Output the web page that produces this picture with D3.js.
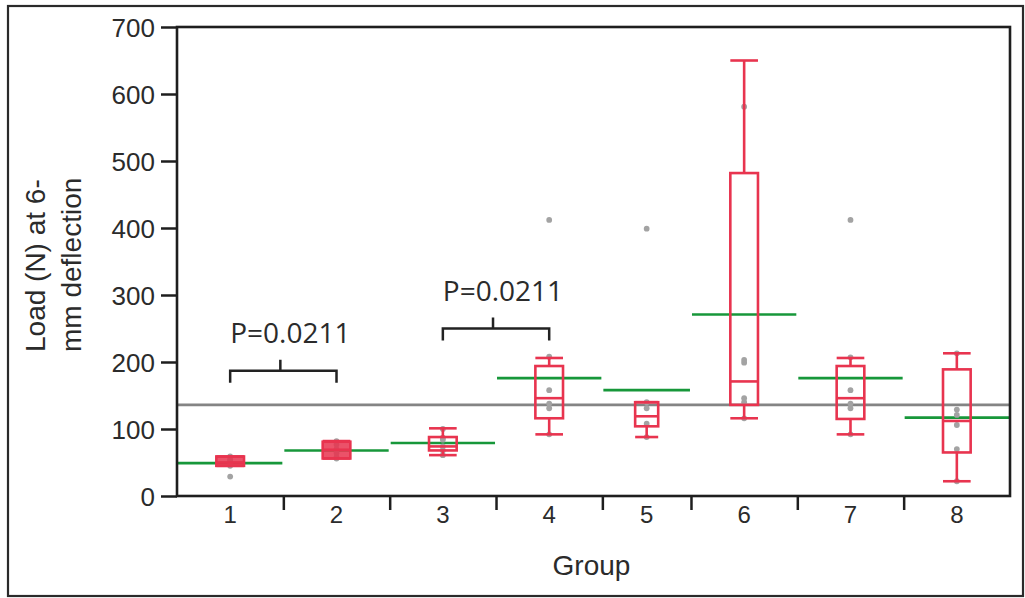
<!DOCTYPE html>
<html>
<head>
<meta charset="utf-8">
<script src="https://cdn.jsdelivr.net/npm/d3@7"></script>
<style>
  html, body { margin: 0; padding: 0; background: #fff; }
  svg { display: block; }
  text { font-family: "Liberation Sans", Arial, Helvetica, sans-serif; fill: #2b2b2b; }
</style>
</head>
<body>
<svg id="chart" width="1025" height="598"></svg>
<script>
// ---------- data ----------
const groups       = ["1", "2", "3", "4", "5", "6", "7", "8"];
const groupN       = [6, 6, 6, 6, 5, 6, 6, 6];
const groupMeans   = [49, 68, 79, 176, 158, 271, 176, 117];
const boxQ1        = [45, 56, 68, 116, 104, 136, 115, 65];
const boxMedian    = [50, 69, 74, 146, 119, 171, 146, 112];
const boxQ3        = [59, 81, 88, 194, 140, 482, 194, 189];
const whiskerLow   = [45, 56, 61, 92, 88, 116, 92, 22];
const whiskerHigh  = [59, 82, 101, 206, 140, 650, 206, 213];
const groupPoints  = [
  [29, 45, 50, 52, 55, 59],
  [56, 58, 64, 70, 77, 82],
  [61, 68, 74, 84, 87, 100],
  [92, 131, 138, 158, 208, 412],
  [88, 108, 131, 140, 399],
  [116, 140, 146, 199, 203, 581],
  [92, 131, 138, 158, 207, 412],
  [22, 70, 106, 121, 129, 213]
];
const grandMean    = 136;
const yTicks       = [0, 100, 200, 300, 400, 500, 600, 700];
const compPairs    = [["1", "2"], ["3", "4"]];
const compLabels   = ["P=0.0211", "P=0.0211"];
const compLevels   = [187, 250];   // bracket heights in N
const shadedGroups = ["1", "2"];   // boxes drawn shaded in the original

// ---------- layout ----------
const svg = d3.select("#chart");
const plot = { left: 177, right: 1010, top: 27, bottom: 496 };
const RED = "#e8344f", GREEN = "#17973a", GREY_PT = "#a3a3a3", AX = "#1e1e1e";

// outer frame
svg.append("rect").attr("x", 8).attr("y", 6).attr("width", 1015).attr("height", 590)
  .attr("fill", "none").attr("stroke", "#2a2a2a").attr("stroke-width", 2.2);

const cum = [0];
groupN.forEach(n => cum.push(cum[cum.length - 1] + n));
const x = d3.scaleLinear().domain([0, cum[cum.length - 1]]).range([plot.left, plot.right]);
const y = d3.scaleLinear().domain([0, 700]).range([plot.bottom, plot.top]);

const bins = groups.map((g, i) => ({
  g, i,
  x0: x(cum[i]), x1: x(cum[i + 1]), cx: x(cum[i] + groupN[i] / 2)
}));
const binOf = g => bins[groups.indexOf(g)];

// grand mean line
svg.append("line")
  .attr("x1", plot.left).attr("x2", plot.right)
  .attr("y1", y(grandMean)).attr("y2", y(grandMean))
  .attr("stroke", "#848484").attr("stroke-width", 2.6);

// group means (green)
svg.append("g").selectAll("line").data(bins).join("line")
  .attr("x1", d => d.x0 + 1).attr("x2", d => d.x1 - 1)
  .attr("y1", d => y(groupMeans[d.i])).attr("y2", d => y(groupMeans[d.i]))
  .attr("stroke", GREEN).attr("stroke-width", 2.6);

// points
const pts = [];
bins.forEach(b => groupPoints[b.i].forEach(v => pts.push({ cx: b.cx, v })));
svg.append("g").selectAll("circle").data(pts).join("circle")
  .attr("cx", d => d.cx).attr("cy", d => y(d.v)).attr("r", 2.9)
  .attr("fill", GREY_PT);

// box plots
const boxG = svg.append("g").attr("fill", "none").attr("stroke", RED).attr("stroke-width", 2.6);
bins.forEach(b => {
  const i = b.i;
  const w = (b.x1 - b.x0) * 0.26;
  const bx = b.cx - w / 2;
  const g = boxG.append("g");
  // whiskers
  g.append("line").attr("x1", b.cx).attr("x2", b.cx).attr("y1", y(whiskerHigh[i])).attr("y2", y(boxQ3[i]));
  g.append("line").attr("x1", b.cx).attr("x2", b.cx).attr("y1", y(boxQ1[i])).attr("y2", y(whiskerLow[i]));
  g.append("line").attr("x1", bx).attr("x2", bx + w).attr("y1", y(whiskerHigh[i])).attr("y2", y(whiskerHigh[i]));
  g.append("line").attr("x1", bx).attr("x2", bx + w).attr("y1", y(whiskerLow[i])).attr("y2", y(whiskerLow[i]));
  // box
  g.append("rect").attr("x", bx).attr("y", y(boxQ3[i])).attr("width", w)
    .attr("height", y(boxQ1[i]) - y(boxQ3[i]))
    .attr("fill", shadedGroups.includes(b.g) ? RED : "none")
    .attr("fill-opacity", 0.85);
  g.append("line").attr("x1", bx).attr("x2", bx + w).attr("y1", y(boxMedian[i])).attr("y2", y(boxMedian[i]));
});

// axes
const yAxis = d3.axisLeft(y).tickValues(yTicks).tickSize(16).tickPadding(6).tickFormat(d3.format("d"));
const yg = svg.append("g").attr("transform", `translate(${plot.left},0)`).call(yAxis);
yg.select(".domain").remove();
yg.selectAll(".tick line").attr("stroke", AX).attr("stroke-width", 2.5);
yg.selectAll(".tick text").attr("font-size", 26).attr("fill", "#2b2b2b")
  .style("font-family", "'Liberation Sans', Arial, sans-serif").attr("dy", "0.36em");

const xAxis = d3.axisBottom(x).tickValues(cum.slice(1, -1)).tickSize(14).tickFormat("");
const xg = svg.append("g").attr("transform", `translate(0,${plot.bottom})`).call(xAxis);
xg.select(".domain").remove();
xg.selectAll(".tick line").attr("stroke", AX).attr("stroke-width", 2.5);

svg.append("g").selectAll("text").data(bins).join("text")
  .attr("x", d => d.cx).attr("y", 523).attr("text-anchor", "middle")
  .attr("font-size", 24).text(d => d.g);

// plot frame
svg.append("rect")
  .attr("x", plot.left).attr("y", plot.top)
  .attr("width", plot.right - plot.left).attr("height", plot.bottom - plot.top)
  .attr("fill", "none").attr("stroke", AX).attr("stroke-width", 2.6);

// axis titles
svg.append("text").attr("x", (plot.left + plot.right) / 2 - 2).attr("y", 575)
  .attr("text-anchor", "middle").attr("font-size", 28).text("Group");
const yl = svg.append("text").attr("transform", "rotate(-90)")
  .attr("font-size", 28).attr("text-anchor", "start");
yl.append("tspan").attr("x", -352).attr("y", 45).text("Load (N) at 6-");
yl.append("tspan").attr("x", -352).attr("y", 81).text("mm deflection");

// comparison brackets
const brG = svg.append("g");
compPairs.forEach((p, k) => {
  const xa = binOf(p[0]).cx, xb = binOf(p[1]).cx, yy = y(compLevels[k]);
  brG.append("path")
    .attr("d", `M${xa},${yy + 12}V${yy}H${xb}V${yy + 12}M${(xa + xb) / 2 - 3},${yy}V${yy - 11}`)
    .attr("fill", "none").attr("stroke", "#222").attr("stroke-width", 2.5);
  brG.append("text").attr("x", xa).attr("y", yy - 28)
    .style("font-family", "'Open Sans', sans-serif").attr("font-size", 28)
    .attr("fill", "#2b2b2b").text(compLabels[k]);
});
</script>
</body>
</html>
